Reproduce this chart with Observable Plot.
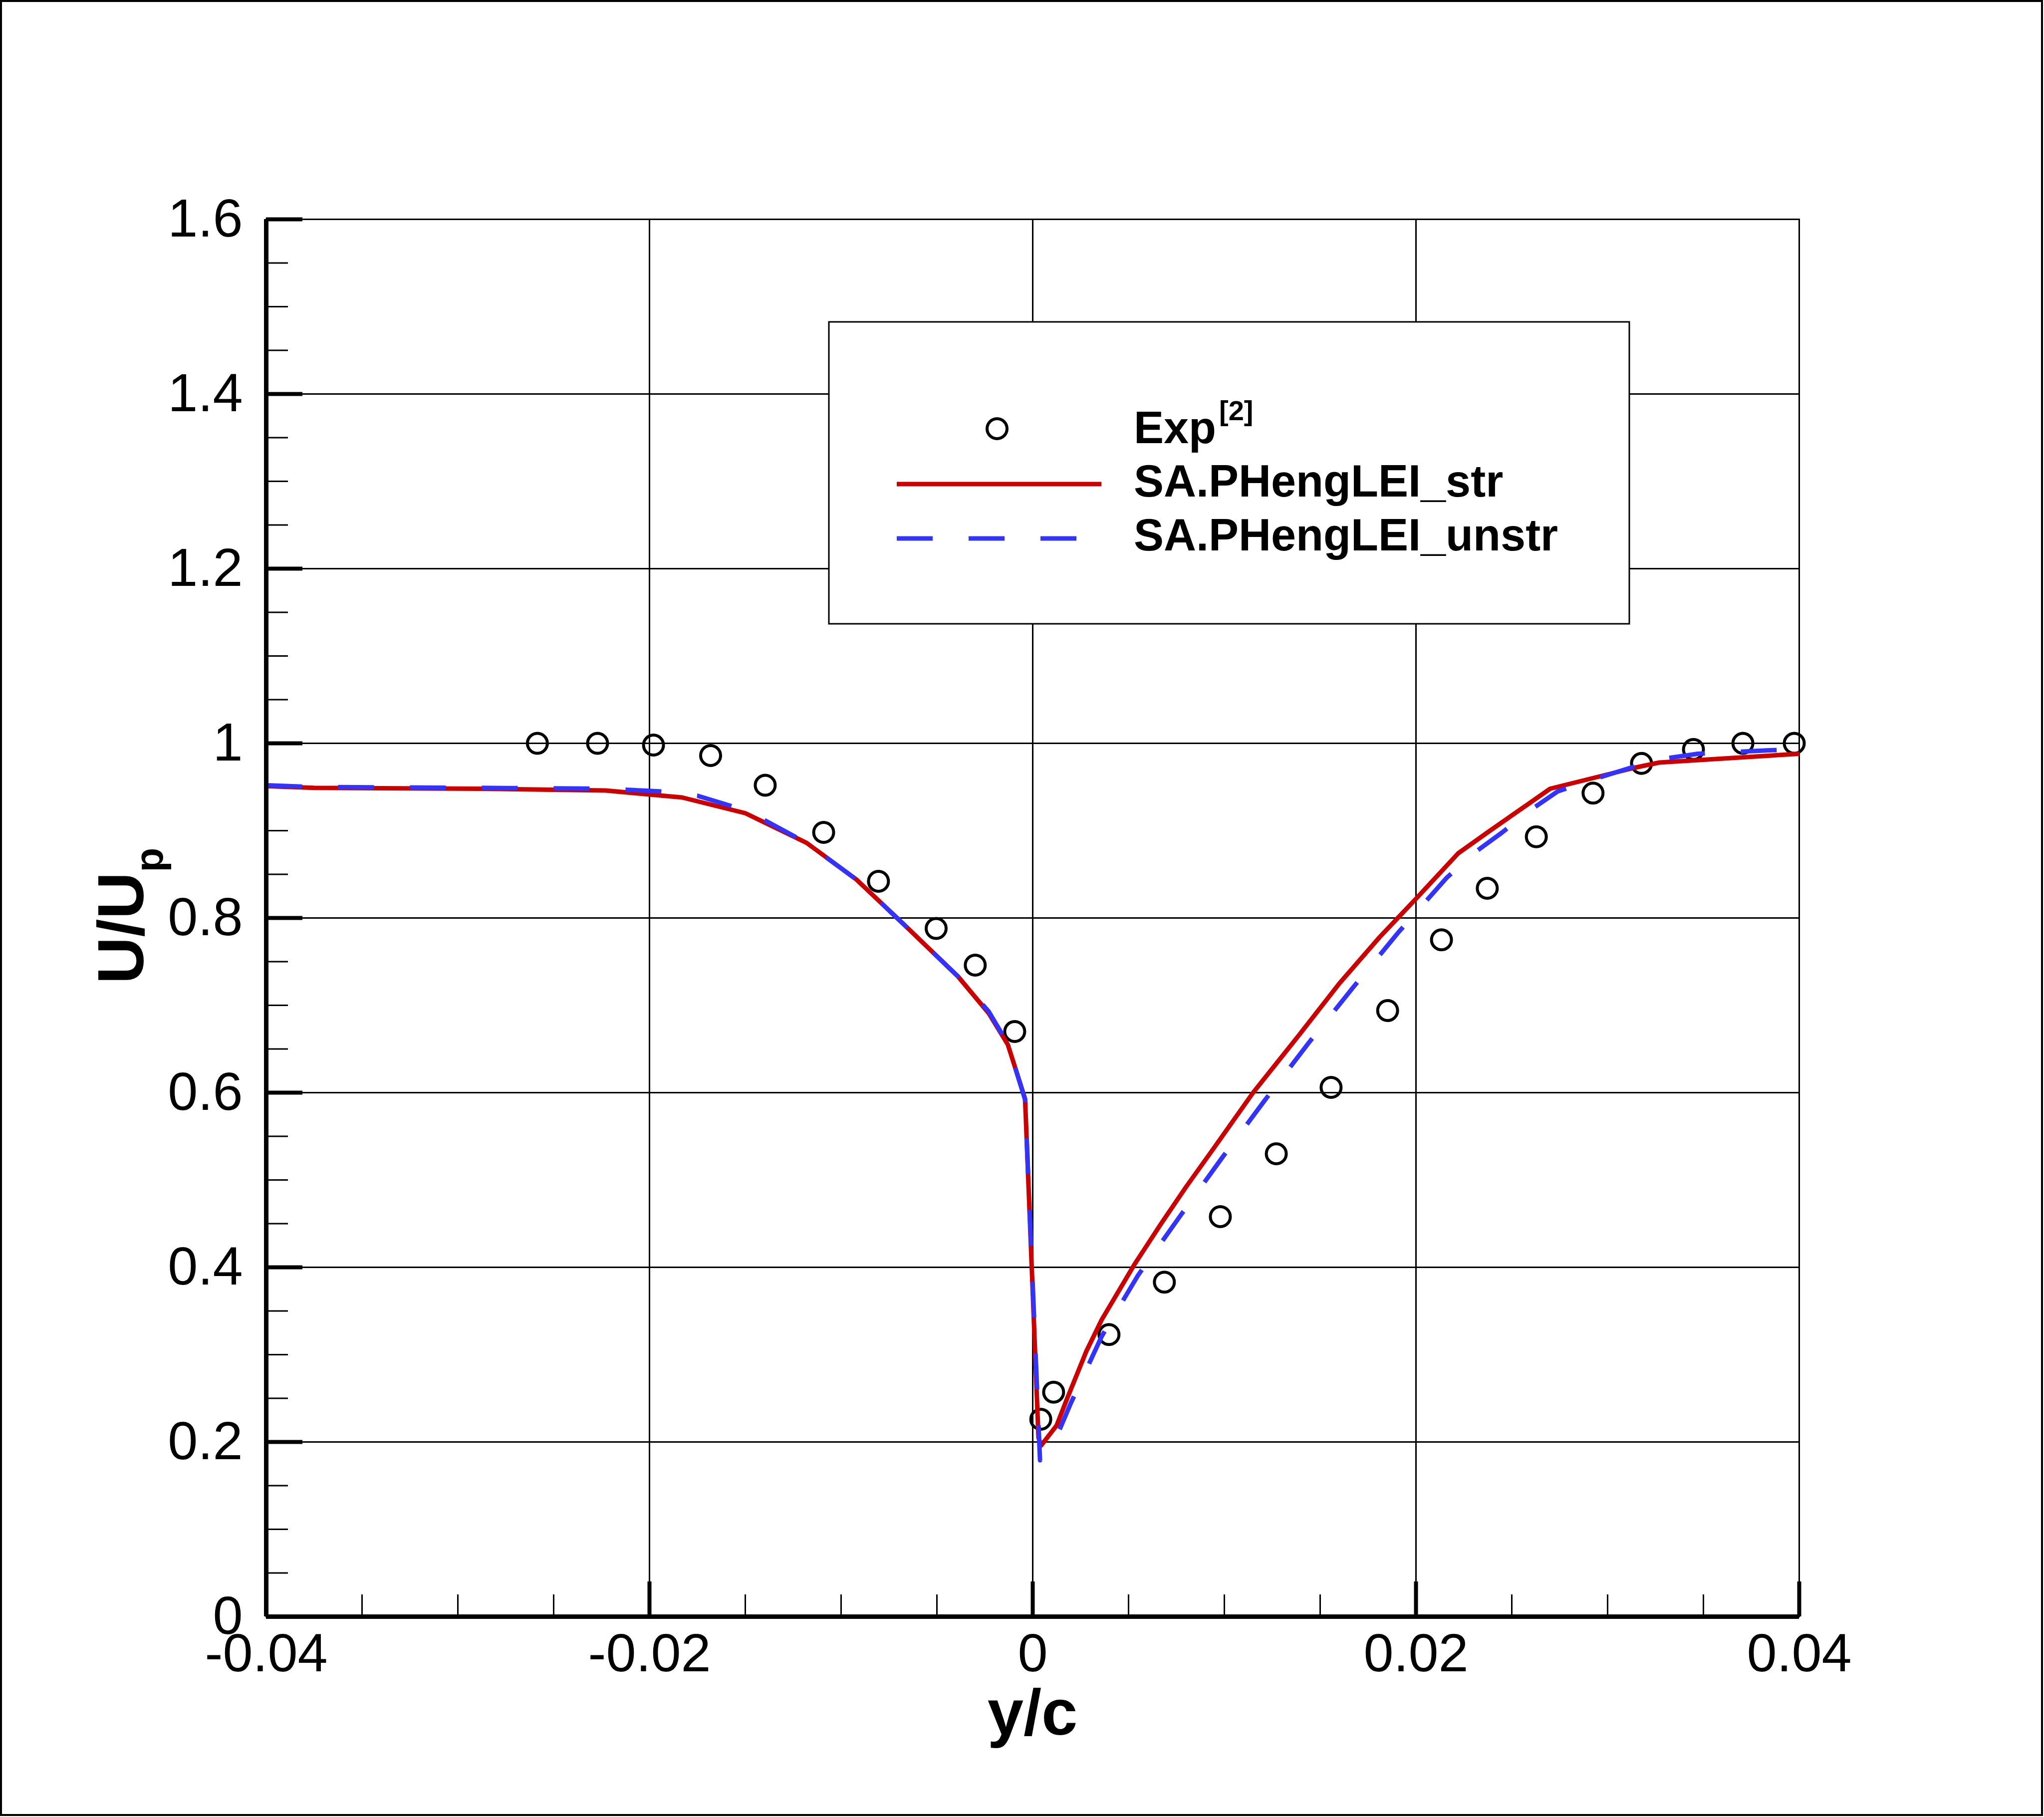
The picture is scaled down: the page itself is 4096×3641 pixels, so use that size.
<!DOCTYPE html>
<html>
<head>
<meta charset="utf-8">
<script src="https://cdn.jsdelivr.net/npm/d3@7"></script>
<script src="https://cdn.jsdelivr.net/npm/@observablehq/plot@0.6"></script>
<style>
  html, body { margin: 0; padding: 0; background: white; }
  #chart svg { display: block; }
</style>
</head>
<body>
<div id="chart"></div>
<script>
// Experimental velocity-deficit profile (y/c, U/Up)
const expY = [-0.02585, -0.02271, -0.01979, -0.01681, -0.01396, -0.01091, -0.00805, -0.00504, -0.00300, -0.00094,
              0.00042, 0.00109, 0.00398, 0.00687, 0.00979, 0.01271, 0.01557, 0.01852, 0.02133, 0.02372,
              0.02628, 0.02924, 0.03177, 0.03448, 0.03706, 0.03974];
const expU = [1.000, 1.000, 0.998, 0.986, 0.952, 0.898, 0.842, 0.788, 0.746, 0.670,
              0.226, 0.257, 0.323, 0.383, 0.458, 0.530, 0.606, 0.694, 0.775, 0.834,
              0.893, 0.943, 0.977, 0.993, 1.000, 1.000];

// SA model, PHengLEI structured grid
const strY = [-0.0400, -0.0375, -0.0289, -0.0223, -0.0183, -0.0150, -0.0118, -0.0092, -0.0066, -0.0039,
              -0.0023, -0.0013, -0.0004, 0.0003, 0.00044, 0.00125, 0.0018, 0.0028, 0.0036, 0.0053,
              0.0067, 0.0080, 0.0095, 0.0115, 0.0139, 0.0160, 0.0181, 0.0200, 0.0222, 0.0238,
              0.0270, 0.0292, 0.0314, 0.0327, 0.0400];
const strU = [0.951, 0.949, 0.948, 0.946, 0.938, 0.920, 0.886, 0.844, 0.790, 0.733,
              0.691, 0.655, 0.593, 0.205, 0.196, 0.219, 0.250, 0.304, 0.340, 0.403,
              0.450, 0.492, 0.538, 0.600, 0.666, 0.725, 0.778, 0.822, 0.874, 0.899,
              0.948, 0.960, 0.972, 0.978, 0.988];

// SA model, PHengLEI unstructured grid
const unstrY = [-0.0400, -0.0375, -0.0289, -0.0223, -0.0195, -0.0175, -0.0157, -0.0140, -0.0118, -0.0092,
                -0.0066, -0.0039, -0.0023, -0.0013, -0.0004, 0.00038, 0.0013, 0.0020, 0.0036, 0.0055,
                0.0077, 0.0099, 0.0121, 0.0144, 0.0167, 0.0191, 0.0216, 0.0230, 0.0245, 0.0260,
                0.0274, 0.0293, 0.0325, 0.0347, 0.0384, 0.0400];
const unstrU = [0.952, 0.950, 0.949, 0.948, 0.945, 0.940, 0.928, 0.912, 0.886, 0.844,
                0.790, 0.733, 0.693, 0.656, 0.592, 0.179, 0.209, 0.245, 0.321, 0.391,
                0.459, 0.526, 0.591, 0.657, 0.720, 0.784, 0.846, 0.874, 0.898, 0.924,
                0.945, 0.959, 0.981, 0.988, 0.992, 0.993];

// Axis ticks and labels
const xTicks = [-0.04, -0.02, 0, 0.02, 0.04];
const xTickLabels = ["-0.04", "-0.02", "0", "0.02", "0.04"];
const yTicks = [0, 0.2, 0.4, 0.6, 0.8, 1.0, 1.2, 1.4, 1.6];
const yTickLabels = ["0", "0.2", "0.4", "0.6", "0.8", "1", "1.2", "1.4", "1.6"];
const xMinorTicks = d3.range(-0.035, 0.04, 0.005).filter(v => Math.abs(Math.round(v * 1000) % 20) > 1e-6);
const yMinorTicks = d3.range(0.05, 1.6, 0.05).filter(v => Math.abs(Math.round(v * 100) % 20) > 1e-6);

const seriesNames = ["Exp", "SA.PHengLEI_str", "SA.PHengLEI_unstr"];

const exp = expY.map((y, i) => ({y, u: expU[i]}));
const str = strY.map((y, i) => ({y, u: strU[i]}));
const unstr = unstrY.map((y, i) => ({y, u: unstrU[i]}));

const W = 4096, H = 3641;
const mL = 533, mR = 491, mT = 439, mB = 402;
const plotW = W - mL - mR, plotH = H - mT - mB;
const FONT = "'Liberation Sans', Arial, Helvetica, sans-serif";
const RED = "#cc0000", BLUE = "#3333ff";

const chart = Plot.plot({
  width: W,
  height: H,
  marginLeft: mL, marginRight: mR, marginTop: mT, marginBottom: mB,
  style: {background: "white", fontFamily: FONT, color: "black", overflow: "visible"},
  x: {domain: [-0.04, 0.04]},
  y: {domain: [0, 1.6]},
  marks: [
    Plot.gridX(xTicks.slice(1), {stroke: "black", strokeOpacity: 1, strokeWidth: 3}),
    Plot.gridY(yTicks.slice(1), {stroke: "black", strokeOpacity: 1, strokeWidth: 3}),
    Plot.frame({stroke: "black", strokeWidth: 3}),
    // inward minor / major ticks
    Plot.tickX(xMinorTicks, {x: d => d, stroke: "black", strokeWidth: 3, insetTop: plotH - 44}),
    Plot.tickX(xTicks, {x: d => d, stroke: "black", strokeWidth: 8, insetTop: plotH - 70}),
    Plot.tickY(yMinorTicks, {y: d => d, stroke: "black", strokeWidth: 3, insetRight: plotW - 44}),
    Plot.tickY(yTicks, {y: d => d, stroke: "black", strokeWidth: 8, insetRight: plotW - 73}),
    // data
    Plot.dot(exp, {x: "y", y: "u", r: 20, stroke: "black", strokeWidth: 6, fill: "none"}),
    Plot.line(str, {x: "y", y: "u", stroke: RED, strokeWidth: 9, strokeLinecap: "butt", strokeLinejoin: "round"}),
    Plot.line(unstr, {x: "y", y: "u", stroke: BLUE, strokeWidth: 9, strokeDasharray: "72,72", strokeLinecap: "butt", strokeLinejoin: "round"}),
    // heavy left / bottom axis lines
    Plot.ruleX([-0.04], {stroke: "black", strokeWidth: 9}),
    Plot.ruleY([0], {stroke: "black", strokeWidth: 9}),
    // tick labels
    Plot.axisX(xTicks, {tickSize: 0, tickPadding: 33, fontSize: 108, label: null,
      tickFormat: d => xTickLabels[xTicks.indexOf(d)]}),
    Plot.axisY(yTicks, {tickSize: 0, tickPadding: 47, fontSize: 108, label: null,
      tickFormat: d => yTickLabels[yTicks.indexOf(d)]})
  ]
});

document.getElementById("chart").appendChild(chart);

const svg = d3.select(chart);

// axis titles
svg.append("text")
  .attr("x", mL + plotW / 2).attr("y", 3476)
  .attr("text-anchor", "middle")
  .attr("font-family", FONT).attr("font-weight", "bold").attr("font-size", 130)
  .attr("fill", "black")
  .text("y/c");

const yTitle = svg.append("text")
  .attr("transform", `translate(287,${mT + plotH / 2 - 4}) rotate(-90)`)
  .attr("text-anchor", "middle")
  .attr("font-family", FONT).attr("font-weight", "bold").attr("font-size", 130)
  .attr("fill", "black");
yTitle.append("tspan").text("U/U");
yTitle.append("tspan").attr("font-size", 80).attr("dy", 39).text("p");

// legend
const lg = svg.append("g")
  .attr("font-family", FONT).attr("fill", "black").attr("text-anchor", "start");
lg.append("rect")
  .attr("x", 1661).attr("y", 645).attr("width", 1604).attr("height", 605)
  .attr("fill", "white").attr("stroke", "black").attr("stroke-width", 3);
lg.append("circle")
  .attr("cx", 1998).attr("cy", 859).attr("r", 20)
  .attr("fill", "none").attr("stroke", "black").attr("stroke-width", 6);
lg.append("line")
  .attr("x1", 1797).attr("x2", 2207).attr("y1", 970).attr("y2", 970)
  .attr("stroke", RED).attr("stroke-width", 9);
lg.append("line")
  .attr("x1", 1797).attr("x2", 2207).attr("y1", 1079).attr("y2", 1079)
  .attr("stroke", BLUE).attr("stroke-width", 9).attr("stroke-dasharray", "72,72");

const expLabel = lg.append("text")
  .attr("x", 2272).attr("y", 888).attr("text-anchor", "start")
  .attr("font-weight", "bold").attr("font-size", 90);
expLabel.append("tspan").text(seriesNames[0]);
expLabel.append("tspan").attr("font-size", 56).attr("dx", 6).attr("dy", -46).text("[2]");

lg.append("text")
  .attr("x", 2272).attr("y", 995).attr("text-anchor", "start")
  .attr("font-weight", "bold").attr("font-size", 90)
  .text(seriesNames[1]);
lg.append("text")
  .attr("x", 2272).attr("y", 1103).attr("text-anchor", "start")
  .attr("font-weight", "bold").attr("font-size", 90)
  .text(seriesNames[2]);

// outer page border
svg.append("rect")
  .attr("x", 2).attr("y", 2).attr("width", W - 6).attr("height", H - 6)
  .attr("fill", "none").attr("stroke", "black").attr("stroke-width", 4);
</script>
</body>
</html>
